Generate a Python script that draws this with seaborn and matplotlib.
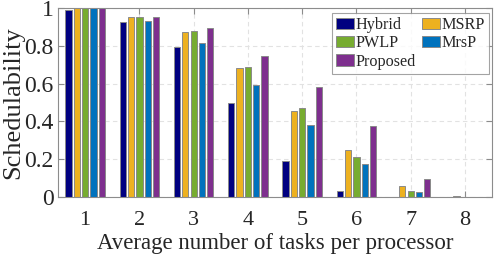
import matplotlib
matplotlib.use("Agg")
import matplotlib.pyplot as plt
import seaborn as sns
import pandas as pd

tasks = ["1", "2", "3", "4", "5", "6", "7", "8"]
methods = ["Hybrid", "MSRP", "PWLP", "MrsP", "Proposed"]
hybrid = [0.99, 0.924, 0.794, 0.497, 0.19, 0.032, 0.0, 0.0]
msrp = [1.0, 0.951, 0.875, 0.681, 0.455, 0.247, 0.058, 0.003]
pwlp = [1.0, 0.951, 0.880, 0.688, 0.469, 0.210, 0.032, 0.0]
mrsp = [1.0, 0.933, 0.815, 0.594, 0.381, 0.175, 0.025, 0.0]
proposed = [1.0, 0.951, 0.892, 0.744, 0.584, 0.376, 0.095, 0.0]
colors = ["#000080", "#EDB120", "#77AC30", "#0072BD", "#7E2F8E"]

series = [hybrid, msrp, pwlp, mrsp, proposed]
rows = []
for m, vals in zip(methods, series):
    for t, v in zip(tasks, vals):
        rows.append({"tasks": t, "method": m, "value": v})
df = pd.DataFrame(rows)

sns.set_style("white")
plt.rcParams["font.family"] = ["Liberation Serif", "DejaVu Serif"]

fig = plt.figure(figsize=(4.98, 2.57), dpi=100)
ax = fig.add_axes([0.1165, 0.2335, 0.8715, 0.7355])

sns.barplot(data=df, x="tasks", y="value", hue="method", order=tasks,
            hue_order=methods, palette=colors, width=0.768, gap=0.25,
            edgecolor="#8a8a8a", linewidth=0.7, ax=ax, legend=True, errorbar=None,
            saturation=1)

ax.set_xlim(-0.5, 7.5)
ax.set_ylim(0, 1)
ax.set_yticks([0, 0.2, 0.4, 0.6, 0.8, 1])
ax.set_yticklabels(["0", "0.2", "0.4", "0.6", "0.8", "1"])
ax.set_axisbelow(True)
ax.grid(True, linestyle=(0, (4, 3)), color="#e2e2e2", linewidth=0.8)

for s in ax.spines.values():
    s.set_visible(True)
    s.set_color("#8c8c8c")
    s.set_linewidth(0.8)
ax.tick_params(axis="both", direction="in", length=4, width=0.8, color="#8c8c8c",
               top=True, right=True, bottom=True, left=True, labelcolor="#262626")
ax.tick_params(axis="y", labelsize=17, pad=3)
ax.tick_params(axis="x", labelsize=16, pad=10)

ax.set_xlabel("Average number of tasks per processor", fontsize=16.5, color="#262626", labelpad=2)
ax.set_ylabel("Schedulability", fontsize=19, color="#262626", labelpad=0)

handles, labels = ax.get_legend_handles_labels()
hmap = dict(zip(labels, handles))
order = ["Hybrid", "PWLP", "Proposed", "MSRP", "MrsP"]
leg = ax.legend([hmap[k] for k in order], order, ncol=2, loc="upper right",
                bbox_to_anchor=(0.993, 0.974), fontsize=11.6, frameon=True,
                fancybox=False, edgecolor="#8c8c8c", borderpad=0.25,
                handlelength=1.1, handleheight=0.7, handletextpad=0.1,
                columnspacing=0.4, labelspacing=0.15, borderaxespad=0)
leg.get_frame().set_linewidth(0.8)
for t in leg.get_texts():
    t.set_color("#262626")

fig.savefig("out.png", dpi=100)
